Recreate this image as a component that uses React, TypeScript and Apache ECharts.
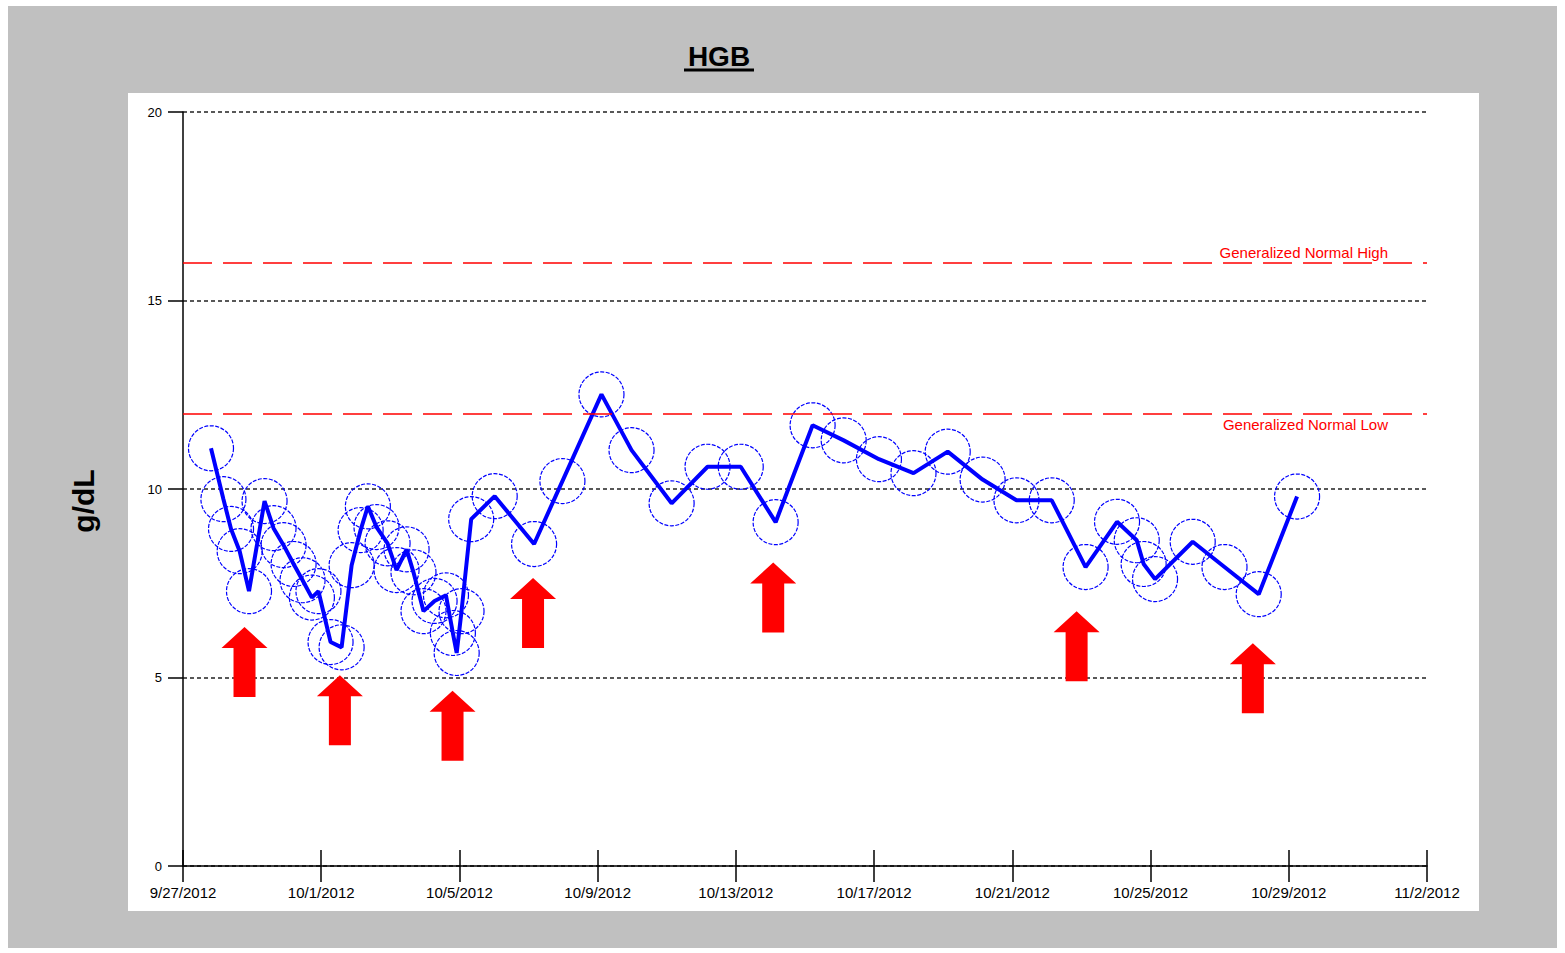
import React, { useEffect, useRef } from "react";
import * as echarts from "echarts";

const tickLabels = [
  "9/27/2012", "10/1/2012", "10/5/2012", "10/9/2012", "10/13/2012",
  "10/17/2012", "10/21/2012", "10/25/2012", "10/29/2012", "11/2/2012",
];

// days after 9/27/2012 00:00
const dayOffsets = [
  0.81, 1.17, 1.39, 1.64, 1.91, 2.36, 2.62, 2.91, 3.2, 3.46, 3.73, 3.92, 4.27, 4.59,
  4.88, 5.14, 5.35, 5.6, 5.92, 6.18, 6.47, 6.67, 6.96, 7.28, 7.61, 7.81, 7.92, 8.06,
  8.34, 9.02, 10.16, 10.98, 12.11, 12.98, 14.14, 15.18, 16.14, 17.15, 18.22, 19.12,
  20.14, 21.14, 22.13, 23.14, 24.12, 25.14, 26.12, 27.03, 27.6, 27.8, 28.13, 29.22,
  30.14, 31.13, 32.24,
];
const hgbValues = [
  11.08, 9.73, 8.94, 8.35, 7.29, 9.68, 8.96, 8.51, 8.01, 7.58, 7.12, 7.29, 5.94, 5.8,
  7.98, 8.91, 9.54, 8.99, 8.56, 7.85, 8.4, 7.79, 6.76, 7.03, 7.18, 6.18, 5.65, 6.76,
  9.2, 9.81, 8.54, 10.21, 12.51, 11.03, 9.62, 10.59, 10.59, 9.12, 11.69, 11.29,
  10.79, 10.42, 10.99, 10.25, 9.7, 9.7, 7.93, 9.13, 8.64, 8.01, 7.61, 8.6,
  7.93, 7.21, 9.8,
];

// transfusion markers (arrow tip positions)
const arrowDays = [1.78, 4.54, 7.8, 10.13, 17.08, 25.86, 30.96];
const arrowTipValues = [6.34, 5.06, 4.65, 7.64, 8.05, 6.76, 5.91];

const normalHigh = 16;
const normalLow = 12;

const FONT = '"Liberation Sans", Arial, sans-serif';
const ARROW = "path://M23,0L46,21L34,21L34,70L12,70L12,21L0,21Z";

export default function App() {
  const ref = useRef<HTMLDivElement>(null);
  useEffect(() => {
    if (!ref.current) return;
    const chart = echarts.init(ref.current, null, { renderer: "svg" });
    const pts = dayOffsets.map((d, i) => [d, hgbValues[i]]);
    const arrows = arrowDays.map((d, i) => [d, arrowTipValues[i]]);
    chart.setOption({
      animation: false,
      backgroundColor: "transparent",
      graphic: [
        {
          type: "text",
          style: {
            text: "HGB",
            x: 719,
            y: 56,
            align: "center",
            verticalAlign: "middle",
            font: `bold 28px ${FONT}`,
            fill: "#000",
          },
        },
        {
          type: "line",
          shape: { x1: 684, y1: 70, x2: 754, y2: 70 },
          style: { stroke: "#000", lineWidth: 3 },
        },
        {
          type: "text",
          x: 83,
          y: 501,
          rotation: Math.PI / 2,
          style: {
            text: "g/dL",
            x: 0,
            y: 0,
            align: "center",
            verticalAlign: "middle",
            font: `bold 30px ${FONT}`,
            fill: "#000",
          },
        },
      ],
      grid: {
        left: 183,
        right: 138,
        top: 112,
        bottom: 87,
        containLabel: false,
        outerBoundsMode: "none",
      },
      xAxis: [
        {
          type: "value",
          min: 0,
          max: 36,
          interval: 4,
          position: "bottom",
          axisLine: { show: true, onZero: false, lineStyle: { color: "#000", width: 1.5 } },
          axisTick: { show: true, length: 16, lineStyle: { color: "#000", width: 1.5 } },
          axisLabel: {
            formatter: (v: number) => tickLabels[Math.round(v / 4)] ?? "",
            margin: 19,
            color: "#000",
            fontSize: 15,
            fontFamily: FONT,
            showMinLabel: true,
            showMaxLabel: true,
          },
          splitLine: { show: false },
        },
        {
          type: "value",
          min: 0,
          max: 36,
          interval: 4,
          position: "bottom",
          offset: 0,
          axisLine: { show: false },
          axisTick: { show: true, inside: true, length: 16, lineStyle: { color: "#000", width: 1.5 } },
          axisLabel: { show: false },
          splitLine: { show: false },
        },
      ],
      yAxis: {
        type: "value",
        min: 0,
        max: 20,
        interval: 5,
        axisLine: { show: true, lineStyle: { color: "#000", width: 1.5 } },
        axisTick: { show: true, length: 15, lineStyle: { color: "#000", width: 1.5 } },
        axisLabel: { margin: 21, color: "#000", fontSize: 13, fontFamily: FONT },
        splitLine: {
          show: true,
          lineStyle: { color: "#222", type: [4, 3], width: 1.5 },
        },
      },
      series: [
        {
          type: "scatter",
          name: "circles",
          data: pts,
          symbol: "circle",
          symbolSize: 45,
          itemStyle: {
            color: "rgba(0,0,0,0)",
            borderColor: "#0000ff",
            borderWidth: 1.2,
            borderType: [4, 1.5],
            opacity: 1,
          },
          z: 2,
          silent: true,
        },
        {
          type: "line",
          name: "HGB",
          data: pts,
          showSymbol: false,
          symbol: "none",
          lineStyle: { color: "#0000ff", width: 4 },
          z: 3,
          markLine: {
            silent: true,
            symbol: "none",
            lineStyle: { color: "#ff0000", type: [29, 11], width: 1.5 },
            label: { color: "#ff0000", fontSize: 15, fontFamily: FONT },
            data: [
              {
                yAxis: normalHigh,
                label: { formatter: "Generalized Normal High", position: "insideEndTop", distance: [39, 3] },
              },
              {
                yAxis: normalLow,
                label: { formatter: "Generalized Normal Low", position: "insideEndBottom", distance: [39, 3] },
              },
            ],
          },
        },
        {
          type: "scatter",
          name: "arrows",
          data: arrows,
          symbol: ARROW,
          symbolSize: [46, 70],
          symbolOffset: [0, 35],
          itemStyle: { color: "#ff0000", opacity: 1 },
          z: 4,
          silent: true,
        },
      ],
    });
    return () => chart.dispose();
  }, []);
  return (
    <div style={{ position: "absolute", left: 0, top: 0, width: 1565, height: 953, background: "#fff" }}>
      <div style={{ position: "absolute", left: 8, top: 6, width: 1549, height: 942, background: "#c0c0c0" }} />
      <div style={{ position: "absolute", left: 128, top: 93, width: 1351, height: 818, background: "#fff" }} />
      <div ref={ref} style={{ position: "absolute", left: 0, top: 0, width: 1565, height: 953 }} />
    </div>
  );
}
